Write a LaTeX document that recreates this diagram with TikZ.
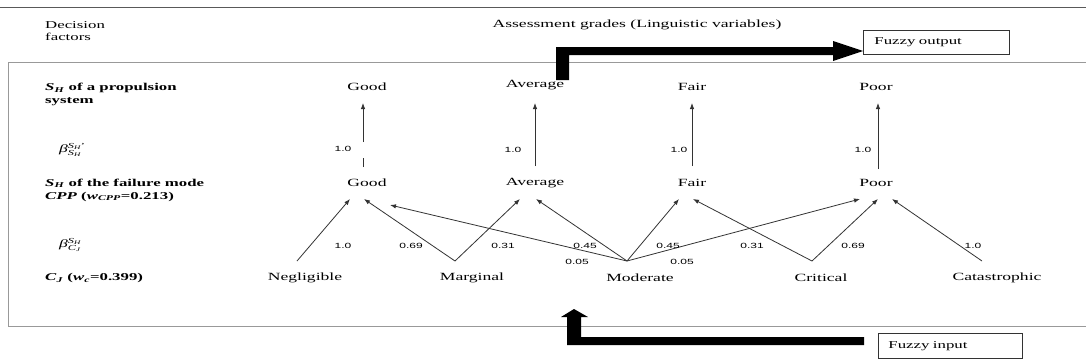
\documentclass[tikz,border=0pt]{standalone}
\usepackage{fontspec}
\usepackage{amsmath}
\setmainfont{Liberation Serif}[FakeStretch=1.6]
\newfontfamily\numfont{Liberation Sans}[FakeStretch=1.6]
\usetikzlibrary{calc,arrows.meta}
\newcommand{\bi}[1]{\textbf{\textit{#1}}}
\begin{document}
\begin{tikzpicture}[x=1pt,y=-1pt,
  lbl/.style={font=\fontsize{11}{13}\selectfont, inner sep=0pt},
  side/.style={font=\fontsize{10.5}{13}\selectfont\bfseries, anchor=west, align=left, inner sep=0pt},
  plain/.style={font=\fontsize{10.5}{12}\selectfont, anchor=west, align=left, inner sep=0pt},
  num/.style={font=\numfont\fontsize{7.5}{8}\selectfont, inner sep=0pt},
  arr/.style={draw=black!80, line width=0.8pt, -{Latex[length=6pt,width=4.5pt]}},
  seg/.style={draw=black!80, line width=0.8pt},
  fat/.style={fill=black},
  rulel/.style={draw=black!65, line width=0.8pt},
  frame/.style={draw=black!40, line width=0.8pt},
  beta/.style={inner sep=0pt, font=\fontsize{11}{12}\selectfont, anchor=west},
  fbox/.style={draw=black!80, line width=0.8pt, anchor=north west, align=left,
     font=\fontsize{10.5}{12}\selectfont, inner ysep=0pt}]
\useasboundingbox (0,0) rectangle (1086,362);
\fill[white] (0,0) rectangle (1086,362);
% rules and frame
\draw[rulel] (0,7) -- (1086,7);
\draw[frame] (1086,62) -- (8,62) -- (8,326) -- (1086,326);
% headings
\node[plain] (dec) at (45,31) {Decision\\factors};
\node[lbl] (ag) at (637,25) {Assessment grades (Linguistic variables)};
\node[fbox, minimum width=146pt, minimum height=24pt, text width=124pt, inner xsep=11pt] (fo) at (863,30) {Fuzzy output};
\node[fbox, minimum width=144pt, minimum height=25pt, text width=124pt, inner xsep=10pt] (fi) at (878,333) {Fuzzy input};
% side labels
\node[side] (s1) at (45,94.5) {\bi{S}\textsubscript{\bi{H}} of a propulsion\\system};
\node[side] (s2) at (45,190) {\bi{S}\textsubscript{\bi{H}} of the failure mode\\\bi{CPP} (\bi{w}\textsubscript{\bi{CPP}}=0.213)};
\node[side] (s3) at (45,278) {\bi{C}\textsubscript{\bi{J}} (\bi{w}\textsubscript{\bi{c}}=0.399)};
\node[beta] (b1) at (59,150)
  {$\textit{β}^{\textit{S}_{\textit{H}}\text{'}}_{\textit{S}_{\textit{H}}}$};
\node[beta] (b2) at (59,245)
  {$\textit{β}^{\textit{S}_{\textit{H}}}_{\textit{C}_{\textit{J}}}$};
% top row
\node[lbl] (gt) at (367,87) {Good};
\node[lbl] (at) at (535,85) {Average};
\node[lbl] (ft) at (692,87) {Fair};
\node[lbl] (pt) at (876,87) {Poor};
% middle row
\node[lbl] (gm) at (367,183) {Good};
\node[lbl] (am) at (535,183) {Average};
\node[lbl] (fm) at (692,183) {Fair};
\node[lbl] (pm) at (876,183) {Poor};
% bottom row
\node[lbl] (neg) at (305,278) {Negligible};
\node[lbl] (mar) at (472,278) {Marginal};
\node[lbl] (mod) at (640,278) {Moderate};
\node[lbl] (cri) at (821,278) {Critical};
\node[lbl] (cat) at (997,278) {Catastrophic};
% vertical arrows
\draw[seg] ($(gm)+(-4,-16)$) -- ($(gm)+(-4,-25)$);
\draw[arr] ($(gm)+(-4,-41)$) -- ($(gt)+(-4,16)$);
\draw[arr] ($(am)+(0,-17)$) -- ($(at)+(0,18)$);
\draw[arr] ($(fm)+(0,-17)$) -- ($(ft)+(0,16)$);
\draw[arr] ($(pm)+(2,-14)$) -- ($(pt)+(2,16)$);
\node[num] at (343,149) {1.0};
\node[num] at (513,150) {1.0};
\node[num] at (679,150) {1.0};
\node[num] at (863,150) {1.0};
% lower arrows
\draw[arr] ($(neg)+(-8,-17)$) -- ($(gm)+(-17,16)$);
\draw[arr] ($(mar)+(-17,-17)$) -- ($(gm)+(-3,16)$);
\draw[arr] ($(mar)+(-17,-17)$) -- ($(am)+(-15,16)$);
\draw[arr] ($(mod)+(-13,-17)$) -- ($(gm)+(23,22)$);
\draw[arr] ($(mod)+(-13,-17)$) -- ($(am)+(1,16)$);
\draw[arr] ($(mod)+(-13,-17)$) -- ($(fm)+(-13,16)$);
\draw[arr] ($(mod)+(-13,-17)$) -- ($(pm)+(-16,16)$);
\draw[arr] ($(cri)+(-9,-17)$) -- ($(fm)+(1,16)$);
\draw[arr] ($(cri)+(-9,-17)$) -- ($(pm)+(2,16)$);
\draw[arr] ($(cat)+(-15,-17)$) -- ($(pm)+(16,16)$);
\node[num] at (343,246) {1.0};
\node[num] at (411,246) {0.69};
\node[num] at (503,246) {0.31};
\node[num] at (585,246) {0.45};
\node[num] at (668,246) {0.45};
\node[num] at (577,262) {0.05};
\node[num] at (682,262) {0.05};
\node[num] at (752,246) {0.31};
\node[num] at (853,246) {0.69};
\node[num] at (973,246) {1.0};
% fat arrows
\fill[fat] (556,80) -- (556,47) -- (833,47) -- (833,41) -- (fo.west |- 0,51) -- (833,61) -- (833,55) -- (569,55) -- (569,80) -- cycle;
\fill[fat] (864,337) -- (864,345) -- (567,345) -- (567,317) -- (561,317) -- (574,309) -- (588,317) -- (581,317) -- (581,337) -- cycle;
\end{tikzpicture}
\end{document}
